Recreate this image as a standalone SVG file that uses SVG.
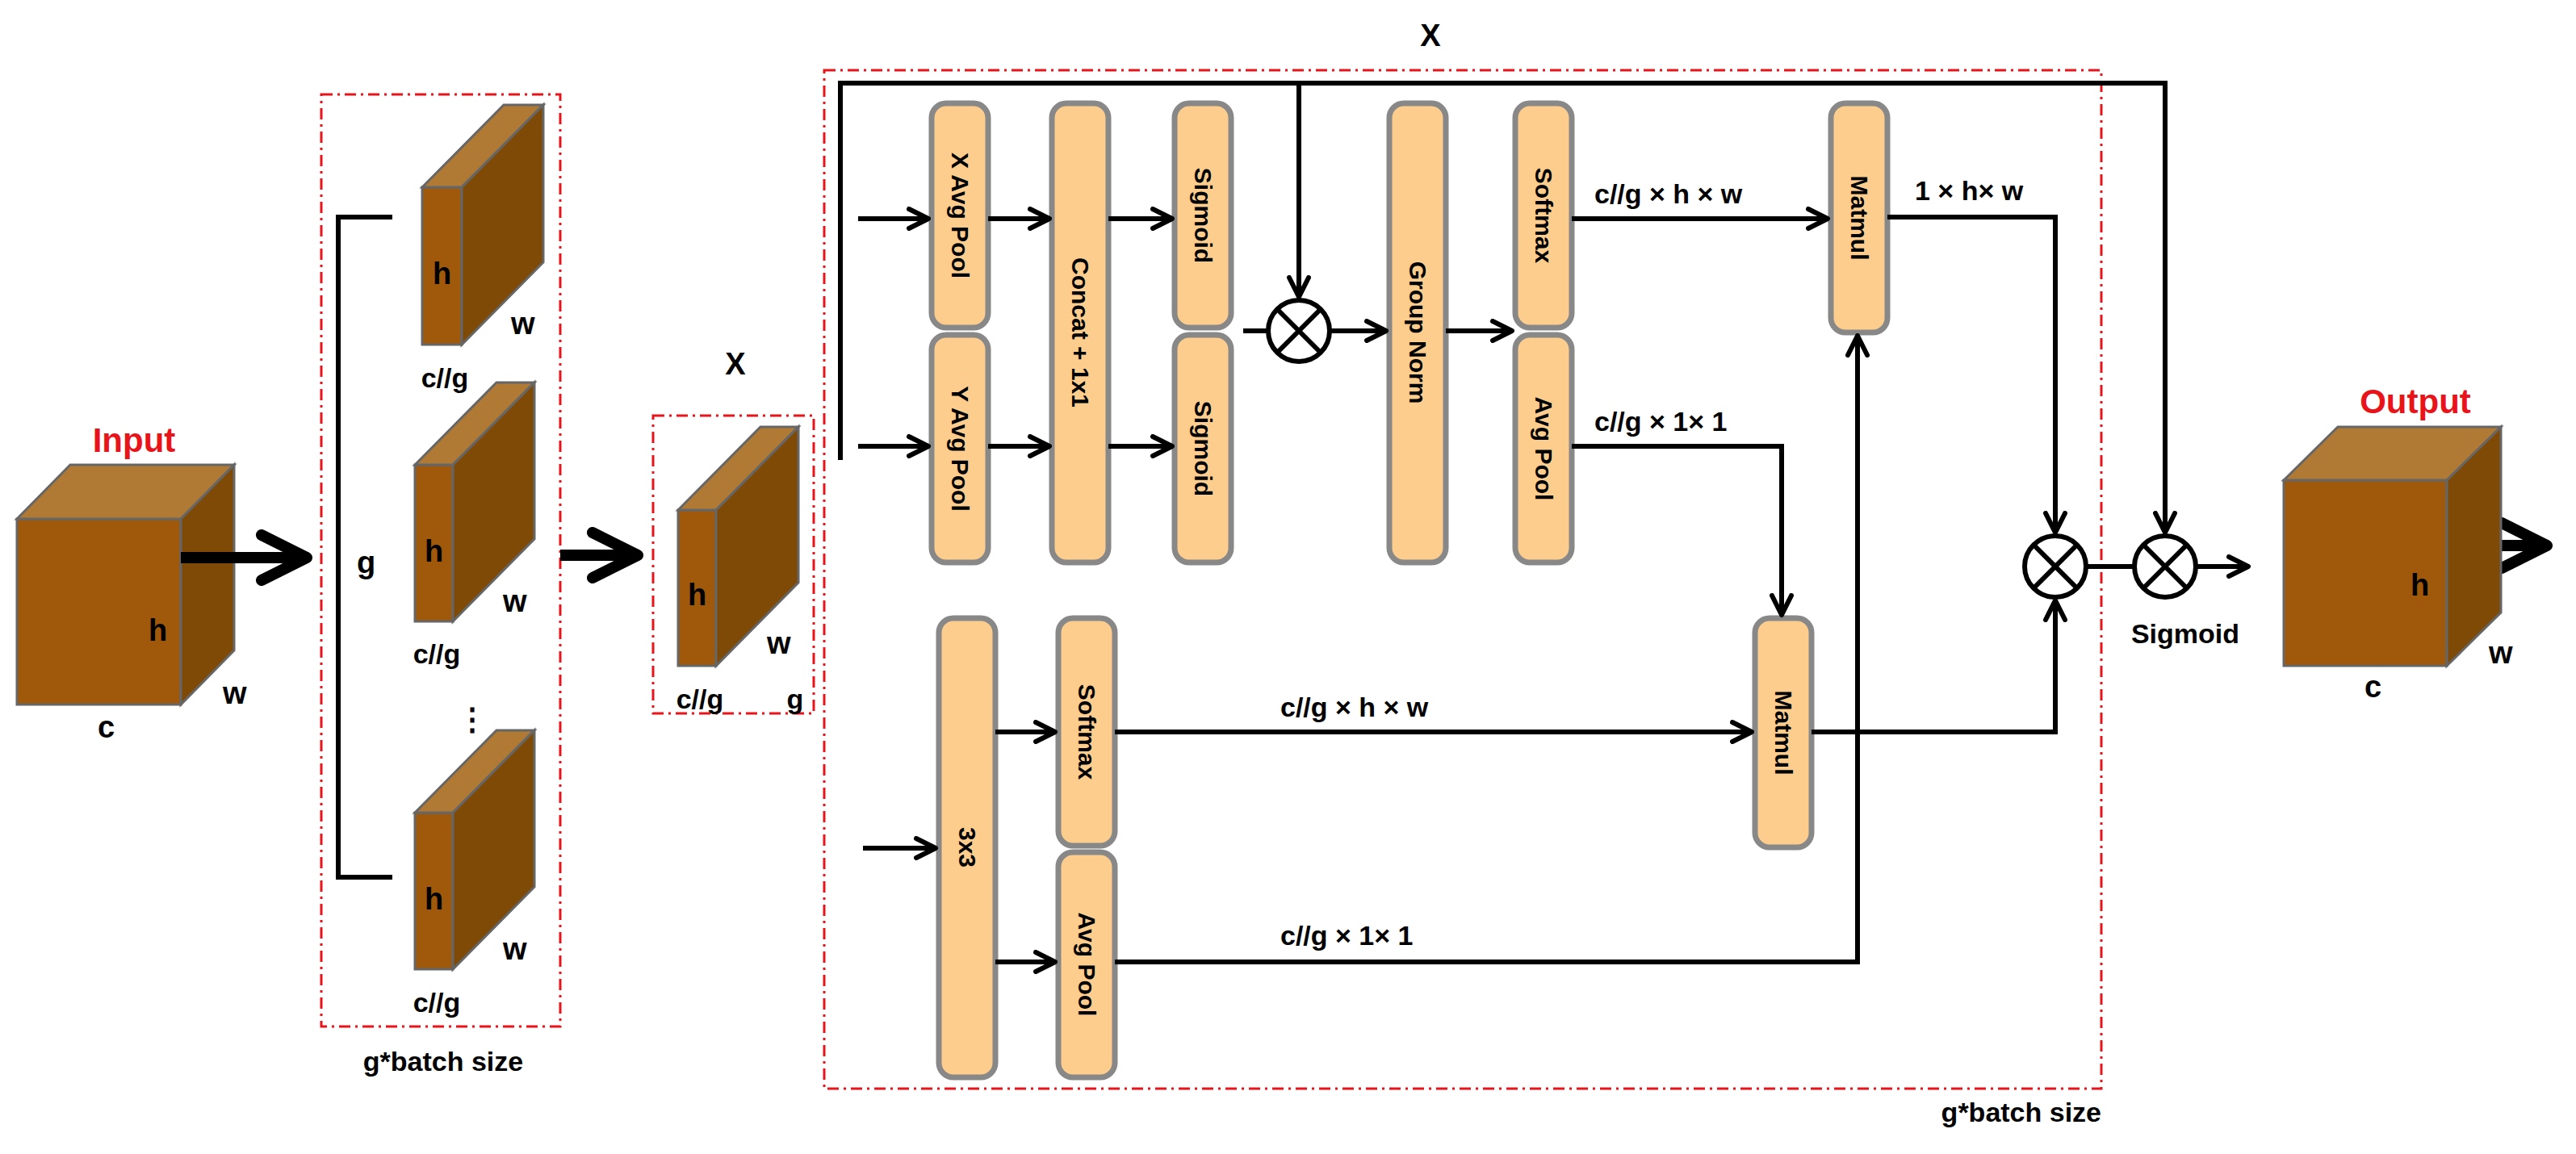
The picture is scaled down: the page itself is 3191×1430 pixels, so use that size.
<svg xmlns="http://www.w3.org/2000/svg" width="3191" height="1430" viewBox="0 0 3191 1430">
<style>
text{font-family:"Liberation Sans",Arial,sans-serif;font-weight:bold;fill:#000}
.lbl{font-size:38px}
.dim{font-size:34px}
.bx{font-size:30px;text-anchor:middle;dominant-baseline:central}
.red{fill:#e8141a;font-size:42px;text-anchor:middle}
.front{fill:#A0580A;stroke:#666;stroke-width:3}
.top{fill:#B07A35;stroke:#666;stroke-width:3}
.side{fill:#7F4A06;stroke:#666;stroke-width:3}
.box{fill:#FDCD8D;stroke:#888;stroke-width:7}
.dash{fill:none;stroke:#e8141a;stroke-width:3;stroke-dasharray:14 6 3 6}
.ln{fill:none;stroke:#000;stroke-width:6}
.thick{fill:none;stroke:#000;stroke-width:14}
.op{fill:#fff;stroke:#000;stroke-width:6}
</style>
<defs>
<marker id="a" viewBox="0 0 10 10" refX="9" refY="5" markerWidth="30" markerHeight="30" markerUnits="userSpaceOnUse" orient="auto"><path d="M1,1 L9,5 L1,9" fill="none" stroke="#000" stroke-width="2" stroke-linecap="round" stroke-linejoin="round"/></marker>
<marker id="b" viewBox="0 0 10 10" refX="9" refY="5" markerWidth="70" markerHeight="70" markerUnits="userSpaceOnUse" orient="auto"><path d="M1,1 L9,5 L1,9" fill="none" stroke="#000" stroke-width="2" stroke-linecap="round" stroke-linejoin="round"/></marker>
</defs>

<g id="input">
<text class="red" x="166" y="560">Input</text>
<rect class="front" x="21" y="643" width="203" height="230"/>
<polygon class="top" points="21,643 87,576 290,576 224,643"/>
<polygon class="side" points="224,643 290,576 290,806 224,873"/>
<text class="lbl" x="184" y="794">h</text>
<text class="lbl" x="276" y="872">w</text>
<text class="lbl" x="121" y="914">c</text>
</g>

<g id="groups">
<rect class="dash" x="398" y="117" width="296" height="1155"/>
<text class="dim" x="549" y="1327" text-anchor="middle">g*batch size</text>
<path class="ln" d="M486,269 H419 V1087 H486"/>
<text class="lbl" x="442" y="710">g</text>
<rect class="front" x="523" y="232" width="49" height="195"/>
<polygon class="top" points="523,232 624,130 673,130 572,232"/>
<polygon class="side" points="572,232 673,130 673,325 572,427"/>
<text class="lbl" x="536" y="352">h</text>
<text class="lbl" x="633" y="414">w</text>
<text class="dim" x="551" y="480" text-anchor="middle">c//g</text>
<rect class="front" x="514" y="576" width="47" height="194"/>
<polygon class="top" points="514,576 615,474 662,474 561,576"/>
<polygon class="side" points="561,576 662,474 662,668 561,770"/>
<text class="lbl" x="526" y="696">h</text>
<text class="lbl" x="623" y="758">w</text>
<text class="dim" x="541" y="822" text-anchor="middle">c//g</text>
<text class="lbl" x="566" y="905">⋮</text>
<rect class="front" x="514" y="1007" width="47" height="194"/>
<polygon class="top" points="514,1007 615,905 662,905 561,1007"/>
<polygon class="side" points="561,1007 662,905 662,1099 561,1201"/>
<text class="lbl" x="526" y="1127">h</text>
<text class="lbl" x="623" y="1189">w</text>
<text class="dim" x="541" y="1254" text-anchor="middle">c//g</text>
</g>

<g id="x">
<text class="lbl" x="911" y="464" text-anchor="middle">X</text>
<rect class="dash" x="809" y="515" width="199" height="369"/>
<rect class="front" x="840" y="632" width="47" height="193"/>
<polygon class="top" points="840,632 942,529 989,529 887,632"/>
<polygon class="side" points="887,632 989,529 989,722 887,825"/>
<text class="lbl" x="852" y="750">h</text>
<text class="lbl" x="950" y="810">w</text>
<text class="dim" x="867" y="878" text-anchor="middle">c//g</text>
<text class="dim" x="985" y="878" text-anchor="middle">g</text>
</g>

<g id="main">
<rect class="dash" x="1021" y="87" width="1582" height="1262"/>
<text class="dim" x="2603" y="1390" text-anchor="end">g*batch size</text>
<text class="lbl" x="1772" y="57" text-anchor="middle">X</text>
</g>

<g id="xavg"><rect class="box" x="1154" y="128" width="70" height="278" rx="18"/><text class="bx" transform="translate(1189,267) rotate(90)">X Avg Pool</text></g>
<g id="yavg"><rect class="box" x="1154" y="415" width="70" height="282" rx="18"/><text class="bx" transform="translate(1189,556) rotate(90)">Y Avg Pool</text></g>
<g id="concat"><rect class="box" x="1303" y="128" width="70" height="569" rx="18"/><text class="bx" transform="translate(1338,412) rotate(90)">Concat + 1x1</text></g>
<g id="sig1"><rect class="box" x="1455" y="128" width="70" height="278" rx="18"/><text class="bx" transform="translate(1490,267) rotate(90)">Sigmoid</text></g>
<g id="sig2"><rect class="box" x="1455" y="415" width="70" height="282" rx="18"/><text class="bx" transform="translate(1490,556) rotate(90)">Sigmoid</text></g>
<g id="gn"><rect class="box" x="1721" y="128" width="70" height="569" rx="18"/><text class="bx" transform="translate(1756,412) rotate(90)">Group Norm</text></g>
<g id="smax1"><rect class="box" x="1877" y="128" width="70" height="278" rx="18"/><text class="bx" transform="translate(1912,267) rotate(90)">Softmax</text></g>
<g id="avg1"><rect class="box" x="1877" y="415" width="70" height="282" rx="18"/><text class="bx" transform="translate(1912,556) rotate(90)">Avg Pool</text></g>
<g id="mm1"><rect class="box" x="2268" y="128" width="70" height="284" rx="18"/><text class="bx" transform="translate(2303,270) rotate(90)">Matmul</text></g>
<g id="c3"><rect class="box" x="1163" y="766" width="70" height="569" rx="18"/><text class="bx" transform="translate(1198,1050) rotate(90)">3x3</text></g>
<g id="smax2"><rect class="box" x="1311" y="766" width="70" height="282" rx="18"/><text class="bx" transform="translate(1346,907) rotate(90)">Softmax</text></g>
<g id="avg2"><rect class="box" x="1311" y="1056" width="70" height="279" rx="18"/><text class="bx" transform="translate(1346,1195) rotate(90)">Avg Pool</text></g>
<g id="mm2"><rect class="box" x="2174" y="766" width="70" height="284" rx="18"/><text class="bx" transform="translate(2209,908) rotate(90)">Matmul</text></g>

<g id="connectors">
<path class="thick" d="M224,691 H380" marker-end="url(#b)"/>
<path class="thick" d="M694,688 H790" marker-end="url(#b)"/>
<path class="thick" d="M3098,676 H3155" marker-end="url(#b)"/>
<path class="ln" d="M1041,570 V103 H2682 V660" marker-end="url(#a)"/>
<path class="ln" d="M1609,103 V368" marker-end="url(#a)"/>
<path class="ln" d="M1063,271 H1150" marker-end="url(#a)"/>
<path class="ln" d="M1063,553 H1150" marker-end="url(#a)"/>
<path class="ln" d="M1224,271 H1300" marker-end="url(#a)"/>
<path class="ln" d="M1224,553 H1300" marker-end="url(#a)"/>
<path class="ln" d="M1373,271 H1452" marker-end="url(#a)"/>
<path class="ln" d="M1373,553 H1452" marker-end="url(#a)"/>
<path class="ln" d="M1540,410 H1571"/>
<path class="ln" d="M1647,410 H1717" marker-end="url(#a)"/>
<path class="ln" d="M1791,410 H1873" marker-end="url(#a)"/>
<path class="ln" d="M1947,271 H2264" marker-end="url(#a)"/>
<path class="ln" d="M1947,553 H2207 V762" marker-end="url(#a)"/>
<path class="ln" d="M2338,269 H2546 V660" marker-end="url(#a)"/>
<path class="ln" d="M1069,1051 H1159" marker-end="url(#a)"/>
<path class="ln" d="M1233,907 H1307" marker-end="url(#a)"/>
<path class="ln" d="M1233,1192 H1307" marker-end="url(#a)"/>
<path class="ln" d="M1381,907 H2170" marker-end="url(#a)"/>
<path class="ln" d="M1381,1192 H2301 V416" marker-end="url(#a)"/>
<path class="ln" d="M2244,907 H2546 V744" marker-end="url(#a)"/>
<path class="ln" d="M2586,702 H2642"/>
<path class="ln" d="M2722,702 H2785" marker-end="url(#a)"/>
<text class="dim" x="1975" y="252">c//g × h × w</text>
<text class="dim" x="1975" y="534">c//g × 1× 1</text>
<text class="dim" x="2372" y="248">1 × h× w</text>
<text class="dim" x="1586" y="888">c//g × h × w</text>
<text class="dim" x="1586" y="1171">c//g × 1× 1</text>
</g>

<g id="mul1"><circle class="op" cx="1609" cy="410" r="38"/><path class="ln" d="M1582,383 L1636,437 M1636,383 L1582,437"/></g>
<g id="mul2"><circle class="op" cx="2546" cy="702" r="38"/><path class="ln" d="M2519,675 L2573,729 M2573,675 L2519,729"/></g>
<g id="mul3"><circle class="op" cx="2682" cy="702" r="38"/><path class="ln" d="M2655,675 L2709,729 M2709,675 L2655,729"/><text class="dim" x="2707" y="797" text-anchor="middle">Sigmoid</text></g>

<g id="output">
<text class="red" x="2992" y="512">Output</text>
<rect class="front" x="2829" y="595" width="202" height="230"/>
<polygon class="top" points="2829,595 2896,529 3098,529 3031,595"/>
<polygon class="side" points="3031,595 3098,529 3098,759 3031,825"/>
<text class="lbl" x="2986" y="738">h</text>
<text class="lbl" x="3083" y="822">w</text>
<text class="lbl" x="2929" y="864">c</text>
</g>
</svg>
